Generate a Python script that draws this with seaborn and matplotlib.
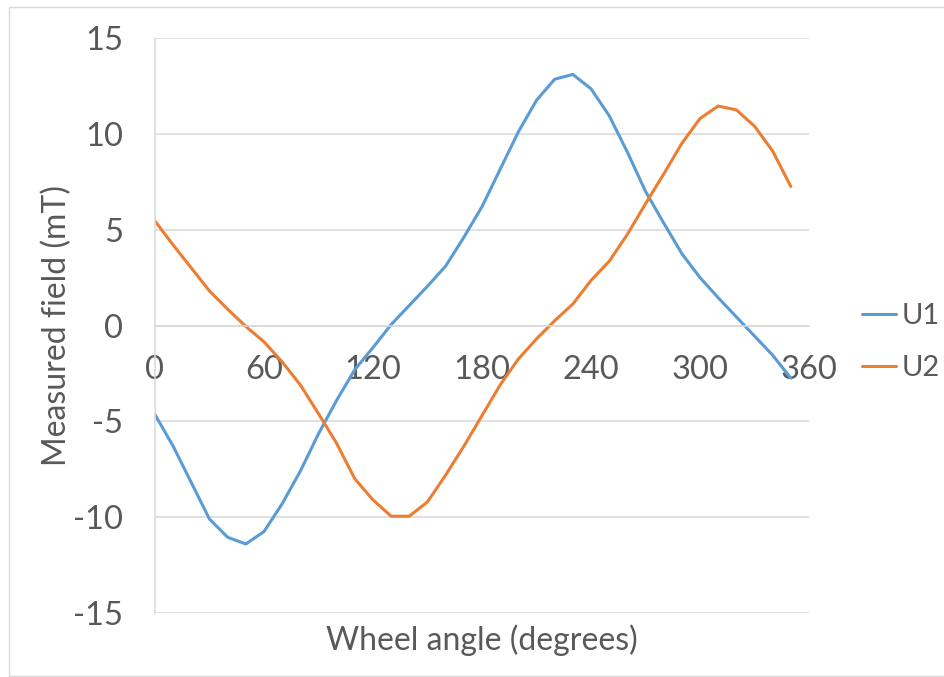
import matplotlib

matplotlib.use("Agg")
import matplotlib.pyplot as plt
from matplotlib.patches import Rectangle
import pandas as pd
import seaborn as sns

# wheel angle in degrees, one reading every 10 degrees
angles = [0, 10, 20, 30, 40, 50, 60, 70, 80, 90, 100, 110, 120, 130, 140, 150, 160, 170,
          180, 190, 200, 210, 220, 230, 240, 250, 260, 270, 280, 290, 300, 310, 320, 330,
          340, 350]
u1_field = [-4.65, -6.3, -8.2, -10.1, -11.05, -11.4, -10.75, -9.3, -7.6, -5.65, -3.9, -2.3,
            -1.15, 0.05, 1.05, 2.05, 3.1, 4.6, 6.2, 8.15, 10.1, 11.75, 12.85, 13.1, 12.35,
            10.95, 9.05, 7.0, 5.35, 3.75, 2.5, 1.45, 0.45, -0.55, -1.55, -2.75]
u2_field = [5.45, 4.2, 3.0, 1.8, 0.85, -0.05, -0.85, -1.9, -3.1, -4.6, -6.15, -8.0, -9.1,
            -9.95, -9.95, -9.2, -7.8, -6.3, -4.7, -3.1, -1.75, -0.7, 0.25, 1.12, 2.35, 3.35,
            4.75, 6.35, 7.9, 9.5, 10.8, 11.45, 11.25, 10.4, 9.1, 7.25]
series_names = ["U1", "U2"]
x_ticks = [0, 60, 120, 180, 240, 300, 360]
y_ticks = [-15, -10, -5, 0, 5, 10, 15]

palette = {"U1": "#5B9BD5", "U2": "#ED7D31"}
text_color = "#595959"
grid_color = "#D9D9D9"

sns.set_style("white")
plt.rcParams["font.family"] = ["Lato", "DejaVu Sans"]
plt.rcParams["axes.unicode_minus"] = False

df = pd.concat(
    [
        pd.DataFrame({"angle": angles, "field": u1_field, "series": series_names[0]}),
        pd.DataFrame({"angle": angles, "field": u2_field, "series": series_names[1]}),
    ],
    ignore_index=True,
)

fig = plt.figure(figsize=(9.45, 6.77), dpi=100)
ax = fig.add_axes([155 / 945, 1 - 613 / 677, 654 / 945, 575 / 677])

sns.lineplot(data=df, x="angle", y="field", hue="series", hue_order=series_names,
             palette=palette, linewidth=2.2, ax=ax, legend=False)

ax.set_xlim(0, 360)
ax.set_ylim(-15, 15)
ax.set_xticks(x_ticks)
ax.set_yticks(y_ticks)
ax.grid(axis="y", color=grid_color, linewidth=1.1)
ax.set_axisbelow(True)

for side in ["top", "right"]:
    ax.spines[side].set_visible(False)
ax.spines["left"].set_color(grid_color)
ax.spines["left"].set_linewidth(1.1)
ax.spines["bottom"].set_position(("data", 0))
ax.spines["bottom"].set_color(grid_color)
ax.spines["bottom"].set_linewidth(1.1)

ax.tick_params(axis="both", length=0, labelsize=23.5, labelcolor=text_color)
ax.tick_params(axis="y", pad=23)
ax.tick_params(axis="x", pad=21)

ax.set_xlabel("Wheel angle (degrees)", fontsize=23, color=text_color)
ax.set_ylabel("Measured field (mT)", fontsize=23, color=text_color)
ax.xaxis.set_label_coords(0.5, -0.02)
ax.yaxis.set_label_coords(-0.127, 0.5)

handles = [plt.Line2D([], [], color=palette[name], linewidth=2.2) for name in series_names]
fig.legend(handles, series_names, loc="center left", bbox_to_anchor=(862 / 945, 1 - 342 / 677),
           frameon=False, fontsize=21, labelcolor=text_color, handlelength=1.15,
           handletextpad=0.2, labelspacing=0.9, borderpad=0, borderaxespad=0)

# light chart-area border like the spreadsheet export
fig.patches.append(Rectangle((9 / 945, 1 / 677), 1.0, 1 - 8 / 677, transform=fig.transFigure,
                             fill=False, edgecolor=grid_color, linewidth=1.0))

fig.savefig("out.png", dpi=100)
